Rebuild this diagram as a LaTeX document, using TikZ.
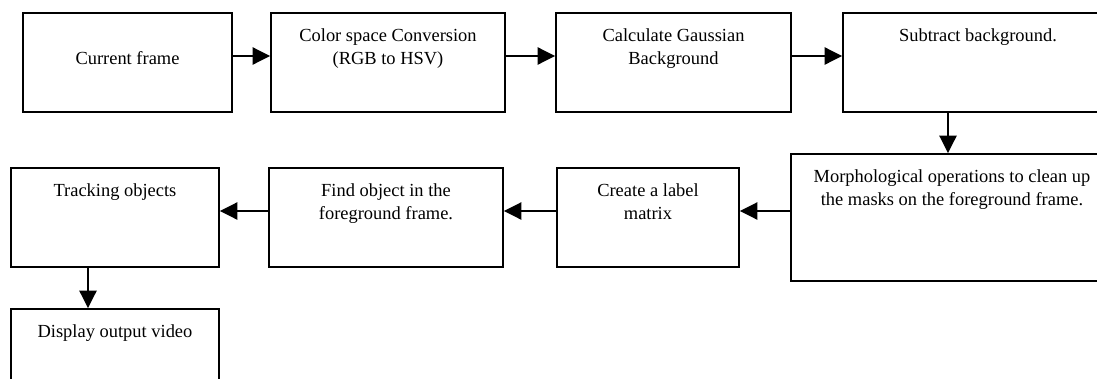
\documentclass[tikz,border=0pt]{standalone}
\usepackage{fontspec}
\setmainfont{Liberation Serif}
\usetikzlibrary{arrows.meta,positioning}
\tikzset{
  blk/.style={draw=black, line width=1pt, minimum height=1.98cm, inner sep=0pt,
              font=\fontsize{10.5}{13}\selectfont},
  toptxt/.style={anchor=north, align=center, yshift=-2.1mm, inner sep=3.5pt,
              font=\fontsize{10.5}{13}\selectfont},
  flowarr/.style={-{Triangle[length=3.5mm, width=3.4mm]}, line width=1.4pt},
}

\begin{document}
\begin{tikzpicture}
  \clip (0,0) rectangle (21.94,-7.56);
  \node[blk, minimum width=4.18cm, text depth=4.8pt] (cur) at (2.55,-1.25) {Current frame};
  \node[blk, minimum width=4.68cm, label={[toptxt]north:{Color space Conversion\\(RGB to HSV)}}] (csc) at (7.76,-1.25) {};
  \node[blk, minimum width=4.70cm, label={[toptxt]north:{Calculate Gaussian\\Background}}] (gau) at (13.47,-1.25) {};
  \node[blk, minimum width=5.40cm, label={[toptxt]north:{Subtract background.}}] (sub) at (19.56,-1.25) {};
  \node[blk, minimum width=6.44cm, minimum height=2.54cm, label={[toptxt]north:{Morphological operations to clean up\\the masks on the foreground frame.}}] (mor) at (19.04,-4.35) {};
  \node[blk, minimum width=3.64cm, label={[toptxt]north:{Create a label\\matrix}}] (lbl) at (12.96,-4.35) {};
  \node[blk, minimum width=4.68cm, label={[toptxt]north:{Find object in the\\foreground frame.}}] (fnd) at (7.72,-4.35) {};
  \node[blk, minimum width=4.16cm, label={[toptxt]north:{Tracking objects}}] (trk) at (2.30,-4.35) {};
  \node[blk, minimum width=4.16cm, label={[toptxt]north:{Display output video}}] (dsp) at (2.30,-7.17) {};
  \draw[flowarr] ([yshift=1.3mm]cur.east) -- ([yshift=1.3mm]csc.west);
  \draw[flowarr] ([yshift=1.3mm]csc.east) -- ([yshift=1.3mm]gau.west);
  \draw[flowarr] ([yshift=1.3mm]gau.east) -- ([yshift=1.3mm]sub.west);
  \draw[flowarr] ([xshift=-6mm]sub.south) -- ([xshift=-6mm]sub.south |- mor.north);
  \draw[flowarr] ([yshift=1.3mm]mor.west) -- ([yshift=1.3mm]lbl.east);
  \draw[flowarr] ([yshift=1.3mm]lbl.west) -- ([yshift=1.3mm]fnd.east);
  \draw[flowarr] ([yshift=1.3mm]fnd.west) -- ([yshift=1.3mm]trk.east);
  \draw[flowarr] ([xshift=-5.4mm]trk.south) -- ([xshift=-5.4mm]trk.south |- dsp.north);
\end{tikzpicture}
\end{document}
